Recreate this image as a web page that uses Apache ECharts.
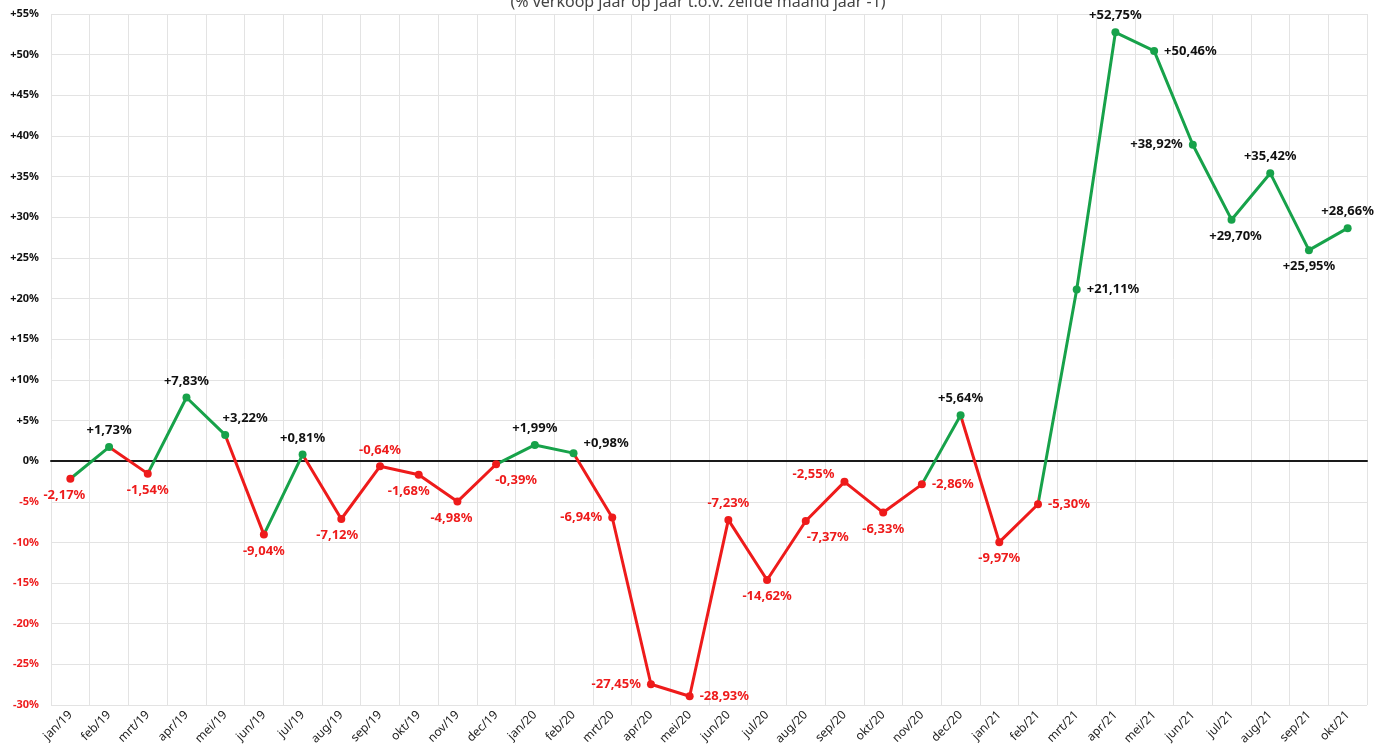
<!DOCTYPE html>
<html>
<head>
<meta charset="utf-8">
<script src="https://cdn.jsdelivr.net/npm/echarts@6/dist/echarts.min.js"></script>
<style>html,body{margin:0;padding:0;background:#fff}#c{width:1396px;height:755px}</style>
</head>
<body>
<div id="c"></div>
<script>
const categories = ['jan/19','feb/19','mrt/19','apr/19','mei/19','jun/19','jul/19','aug/19','sep/19','okt/19','nov/19','dec/19',
  'jan/20','feb/20','mrt/20','apr/20','mei/20','jun/20','jul/20','aug/20','sep/20','okt/20','nov/20','dec/20',
  'jan/21','feb/21','mrt/21','apr/21','mei/21','jun/21','jul/21','aug/21','sep/21','okt/21'];
const values = [-2.17, 1.73, -1.54, 7.83, 3.22, -9.04, 0.81, -7.12, -0.64, -1.68, -4.98, -0.39,
  1.99, 0.98, -6.94, -27.45, -28.93, -7.23, -14.62, -7.37, -2.55, -6.33, -2.86, 5.64,
  -9.97, -5.30, 21.11, 52.75, 50.46, 38.92, 29.70, 35.42, 25.95, 28.66];
const titleText = '(% verkoop jaar op jaar t.o.v. zelfde maand jaar -1)';

// label placement (presentation only)
const labelPlacement = [
  ['bottom',[-6,0]],['top',[0,0]],['bottom',[0,0]],['top',[0,0]],['top',[20,0]],['bottom',[0,0]],
  ['top',[0,0]],['bottom',[-4,0]],['top',[0,0]],['bottom',[-10,0]],['bottom',[-6,0]],['bottom',[20,0]],
  ['top',[0,0]],['right',[0,-10]],['left',[0,0]],['left',[0,0]],['right',[0,0]],['top',[0,0]],
  ['bottom',[0,0]],['bottom',[22,0]],['left',[0,-8]],['bottom',[0,0]],['right',[0,0]],['top',[0,0]],
  ['bottom',[0,0]],['right',[0,0]],['right',[0,0]],['top',[0,0]],['right',[0,0]],['left',[0,0]],
  ['bottom',[4,0]],['top',[0,0]],['bottom',[0,0]],['top',[0,0]]
];

const GREEN = '#17a24a', RED = '#ee1b1b', DARK = '#111';
function fmt(v){ return (v > 0 ? '+' : '') + v.toFixed(2).replace('.', ','); }

const seriesData = values.map((v, i) => ({
  value: v,
  label: {
    position: labelPlacement[i][0],
    offset: labelPlacement[i][1],
    color: v >= 0 ? DARK : RED
  }
}));

const pieces = values.map((v, i) => {
  const c = v >= 0 ? GREEN : RED;
  return i === 0 ? { lte: 0, color: c } : { gt: i - 1, lte: i, color: c };
});

const chart = echarts.init(document.getElementById('c'));
chart.setOption({
  animation: false,
  backgroundColor: '#fff',
  textStyle: { fontFamily: 'Noto Sans' },
  title: {
    text: titleText, left: 'center', top: -11,
    textStyle: { fontSize: 16, fontWeight: 'normal', color: '#444', fontFamily: 'Noto Sans' }
  },
  grid: { left: 51, right: 29, top: 14, bottom: 50, containLabel: false },
  visualMap: { show: false, type: 'piecewise', dimension: 0, seriesIndex: 0, pieces: pieces },
  xAxis: {
    type: 'category', data: categories, boundaryGap: true,
    axisLine: { onZero: true, lineStyle: { color: '#1a1a1a', width: 2 } },
    axisTick: { show: false },
    splitLine: { show: true, lineStyle: { color: '#e3e3e3', width: 1 } },
    axisLabel: { rotate: 45, fontSize: 12, color: '#222', margin: 8, fontFamily: 'Noto Sans', interval: 0 }
  },
  yAxis: {
    type: 'value', min: -30, max: 55, interval: 5,
    axisLine: { show: false }, axisTick: { show: false },
    splitLine: { lineStyle: { color: '#e3e3e3', width: 1 } },
    axisLabel: {
      fontSize: 11, fontWeight: 'bold', margin: 12, fontFamily: 'Noto Sans',
      formatter: v => (v > 0 ? '+' : '') + v + '%',
      color: v => (v < 0 ? RED : DARK)
    }
  },
  series: [{
    type: 'line', data: seriesData,
    symbol: 'circle', symbolSize: 8,
    lineStyle: { width: 3 },
    label: {
      show: true, fontSize: 13, fontWeight: 'bold', fontFamily: 'Noto Sans', distance: 6,
      formatter: p => fmt(p.value) + '%'
    },
    z: 3
  }]
});
</script>
</body>
</html>
